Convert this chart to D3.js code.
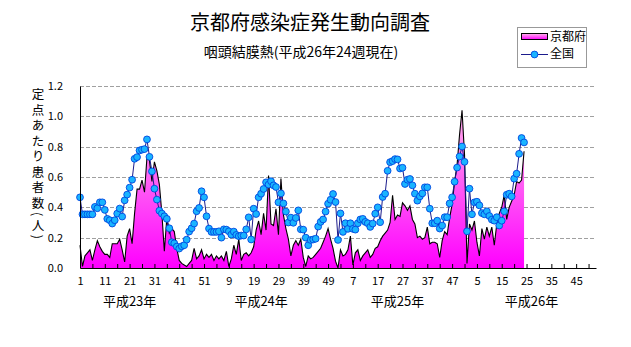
<!DOCTYPE html>
<html><head><meta charset="utf-8">
<script src="https://cdn.jsdelivr.net/npm/d3@7"></script>
<style>
body{margin:0;background:#fff;}
text{font-family:"Noto Sans CJK JP","Noto Sans",sans-serif;}
</style></head><body>
<svg id="chart" width="631" height="347"></svg>
<script>
// ---- data ----
const kyoto = [
0.15,0.01,0.08,0.10,0.12,0.05,0.12,0.18,0.14,0.11,0.09,0.09,0.07,0.16,0.16,0.16,0.19,0.12,0.04,0.21,
0.26,0.16,0.36,0.52,0.52,0.58,0.50,0.73,0.71,0.57,0.70,0.64,0.55,0.36,0.11,0.33,0.23,0.26,0.24,0.13,
0.05,0.03,0.02,0.01,0.03,0.05,0.13,0.06,0.08,0.12,0.06,0.09,0.07,0.09,0.05,0.08,0.06,0.08,0.05,0.11,
0.01,0.06,0.15,0.09,0.19,0.05,0.09,0.10,0.08,0.10,0.14,0.25,0.31,0.22,0.36,0.25,0.61,0.29,0.28,0.39,
0.22,0.59,0.35,0.26,0.19,0.08,0.15,0.18,0.15,0.19,0.07,0.01,0.08,0.06,0.07,0.09,0.11,0.13,0.17,0.21,
0.26,0.19,0.13,0.045,0.00,0.12,0.08,0.09,0.12,0.21,0.02,0.10,0.12,0.05,0.08,0.10,0.12,0.07,0.09,0.13,
0.14,0.18,0.21,0.23,0.25,0.30,0.48,0.32,0.35,0.34,0.43,0.41,0.38,0.41,0.32,0.29,0.20,0.21,0.19,0.20,
0.27,0.16,0.17,0.17,0.16,0.07,0.18,0.24,0.22,0.33,0.42,0.57,0.68,0.88,1.04,0.75,0.03,0.29,0.25,0.31,
0.17,0.08,0.26,0.19,0.27,0.21,0.27,0.15,0.29,0.36,0.40,0.48,0.32,0.40,0.44,0.48,0.57,0.56,0.58,0.77
];
const national = [
0.466,0.354,0.354,0.354,0.354,0.354,0.403,0.394,0.433,0.433,0.383,0.324,0.315,0.293,0.315,0.359,0.392,0.339,0.446,0.484,
0.530,0.582,0.720,0.731,0.775,0.780,0.784,0.848,0.733,0.637,0.523,0.451,0.378,0.359,0.341,0.324,0.262,0.170,0.163,0.141,
0.128,0.143,0.150,0.187,0.240,0.262,0.293,0.374,0.396,0.506,0.466,0.341,0.260,0.238,0.238,0.238,0.242,0.200,0.255,0.253,
0.242,0.220,0.240,0.218,0.210,0.214,0.214,0.255,0.334,0.188,0.391,0.356,0.466,0.490,0.521,0.565,0.550,0.572,0.545,0.534,
0.433,0.492,0.426,0.372,0.300,0.332,0.298,0.330,0.380,0.255,0.253,0.200,0.150,0.185,0.188,0.193,0.273,0.304,0.320,0.372,
0.424,0.450,0.488,0.435,0.185,0.360,0.238,0.295,0.258,0.295,0.258,0.253,0.295,0.320,0.324,0.304,0.295,0.271,0.293,0.358,
0.400,0.302,0.468,0.490,0.641,0.698,0.705,0.718,0.716,0.656,0.661,0.554,0.582,0.587,0.545,0.490,0.444,0.472,0.492,0.532,
0.532,0.391,0.295,0.295,0.312,0.260,0.280,0.335,0.335,0.426,0.466,0.569,0.662,0.735,0.801,0.700,0.242,0.523,0.354,0.433,
0.437,0.413,0.362,0.354,0.374,0.343,0.319,0.312,0.335,0.280,0.312,0.374,0.483,0.490,0.472,0.589,0.622,0.753,0.857,0.828
];
const xTickLabels = ["1","11","21","31","41","51","9","19","29","39","49","7","17","27","37","47","5","15","25","35","45"];
const yearLabels = ["平成23年","平成24年","平成25年","平成26年"];
const yearLabelWeeks = [21, 74, 129, 183];
const yTicks = [0, 0.2, 0.4, 0.6, 0.8, 1.0, 1.2];
const seriesNames = ["京都府", "全国"];

// ---- chart ----
const svg = d3.select("#chart");
svg.append("rect").attr("width",631).attr("height",347).attr("fill","#fff");

const x = d3.scaleLinear().domain([1, 209]).range([80, 596]);
const y = d3.scaleLinear().domain([0, 1.2]).range([268, 86]);

const defs = svg.append("defs");
const grad = defs.append("linearGradient").attr("id","pinkGrad")
  .attr("gradientUnits","userSpaceOnUse").attr("x1",0).attr("x2",0)
  .attr("y1", y(1.1)).attr("y2", y(0));
grad.append("stop").attr("offset","0%").attr("stop-color","#ffb8ea");
grad.append("stop").attr("offset","100%").attr("stop-color","#ff00ff");
const lgrad = defs.append("linearGradient").attr("id","legGrad")
  .attr("x1",0).attr("x2",0).attr("y1",0).attr("y2",1);
lgrad.append("stop").attr("offset","0%").attr("stop-color","#ffb8ea");
lgrad.append("stop").attr("offset","100%").attr("stop-color","#ff00ff");

// grid
svg.append("g").selectAll("line").data(yTicks.filter(d=>d>0)).join("line")
  .attr("x1", x(1)).attr("x2", x(209))
  .attr("y1", d=>Math.round(y(d))+0.5).attr("y2", d=>Math.round(y(d))+0.5)
  .attr("stroke","#a0a0a0").attr("stroke-dasharray","4,2");

// Kyoto area
const area = d3.area().x((d,i)=>x(i+1)).y0(y(0)).y1(d=>y(d));
svg.append("path").datum(kyoto).attr("d", area).attr("fill","url(#pinkGrad)");
const kline = d3.line().x((d,i)=>x(i+1)).y(d=>y(d));
svg.append("path").datum(kyoto).attr("d", kline).attr("fill","none")
  .attr("stroke","#000").attr("stroke-width",1.1);

// national
const nline = d3.line().x((d,i)=>x(i+1)).y(d=>y(d));
svg.append("path").datum(national).attr("d", nline).attr("fill","none")
  .attr("stroke","#1c1c8c").attr("stroke-width",1);
svg.append("g").selectAll("circle").data(national).join("circle")
  .attr("cx",(d,i)=>x(i+1)).attr("cy",d=>y(d)).attr("r",3.4)
  .attr("fill","#19b4ff").attr("stroke","#0046e0").attr("stroke-width",0.9);

// axes
const yAxis = svg.append("g").attr("transform",`translate(${x(1)},0)`)
  .call(d3.axisLeft(y).tickValues(yTicks).tickSize(0).tickSizeOuter(0)
        .tickFormat(d3.format(".1f")).tickPadding(17));
yAxis.select(".domain").attr("stroke","#000");
yAxis.selectAll("text").attr("font-size",11).attr("fill","#000");

const xTickAxis = svg.append("g").attr("transform",`translate(0,${y(0)})`)
  .call(d3.axisBottom(x).tickValues(d3.range(1, 209, 5)).tickSizeInner(-4).tickSizeOuter(0).tickFormat(""));
xTickAxis.select(".domain").attr("stroke","#000");
xTickAxis.selectAll(".tick line").attr("stroke","#000");

const xLabAxis = svg.append("g").attr("transform",`translate(0,${y(0)})`)
  .call(d3.axisBottom(x).tickValues(d3.range(1, 202, 10)).tickSize(0)
        .tickFormat((d,i)=>xTickLabels[i]).tickPadding(9));
xLabAxis.select(".domain").remove();
xLabAxis.selectAll("text").attr("font-size",11).attr("fill","#000");

svg.append("g").selectAll("text").data(yearLabels).join("text")
  .attr("x",(d,i)=>x(yearLabelWeeks[i])).attr("y",306)
  .attr("text-anchor","middle").attr("font-size",13).text(d=>d);

// y title (vertical)
svg.append("text").attr("x",38).attr("y",88)
  .style("writing-mode","vertical-rl").attr("font-size",12.5)
  .attr("letter-spacing",3).text("定点あたり患者数(人)");

// titles
svg.append("text").attr("x",310).attr("y",30).attr("text-anchor","middle")
  .attr("font-size",20).text("京都府感染症発生動向調査");
svg.append("text").attr("x",301).attr("y",57).attr("text-anchor","middle")
  .attr("font-size",14).text("咽頭結膜熱(平成26年24週現在)");

// legend
const lg = svg.append("g");
lg.append("rect").attr("x",517.5).attr("y",27.5).attr("width",69).attr("height",40)
  .attr("fill","#fff").attr("stroke","#999");
lg.append("rect").attr("x",521.5).attr("y",33.5).attr("width",26).attr("height",6)
  .attr("fill","url(#legGrad)").attr("stroke","#000");
lg.append("line").attr("x1",521).attr("x2",548).attr("y1",54.5).attr("y2",54.5)
  .attr("stroke","#1c1c8c");
lg.append("circle").attr("cx",534.5).attr("cy",54.5).attr("r",3.4)
  .attr("fill","#19b4ff").attr("stroke","#0046e0").attr("stroke-width",0.9);
lg.selectAll("text.leg").data(seriesNames).join("text").attr("class","leg")
  .attr("x",550).attr("y",(d,i)=>41+i*17).attr("font-size",12).text(d=>d);
</script></body></html>
